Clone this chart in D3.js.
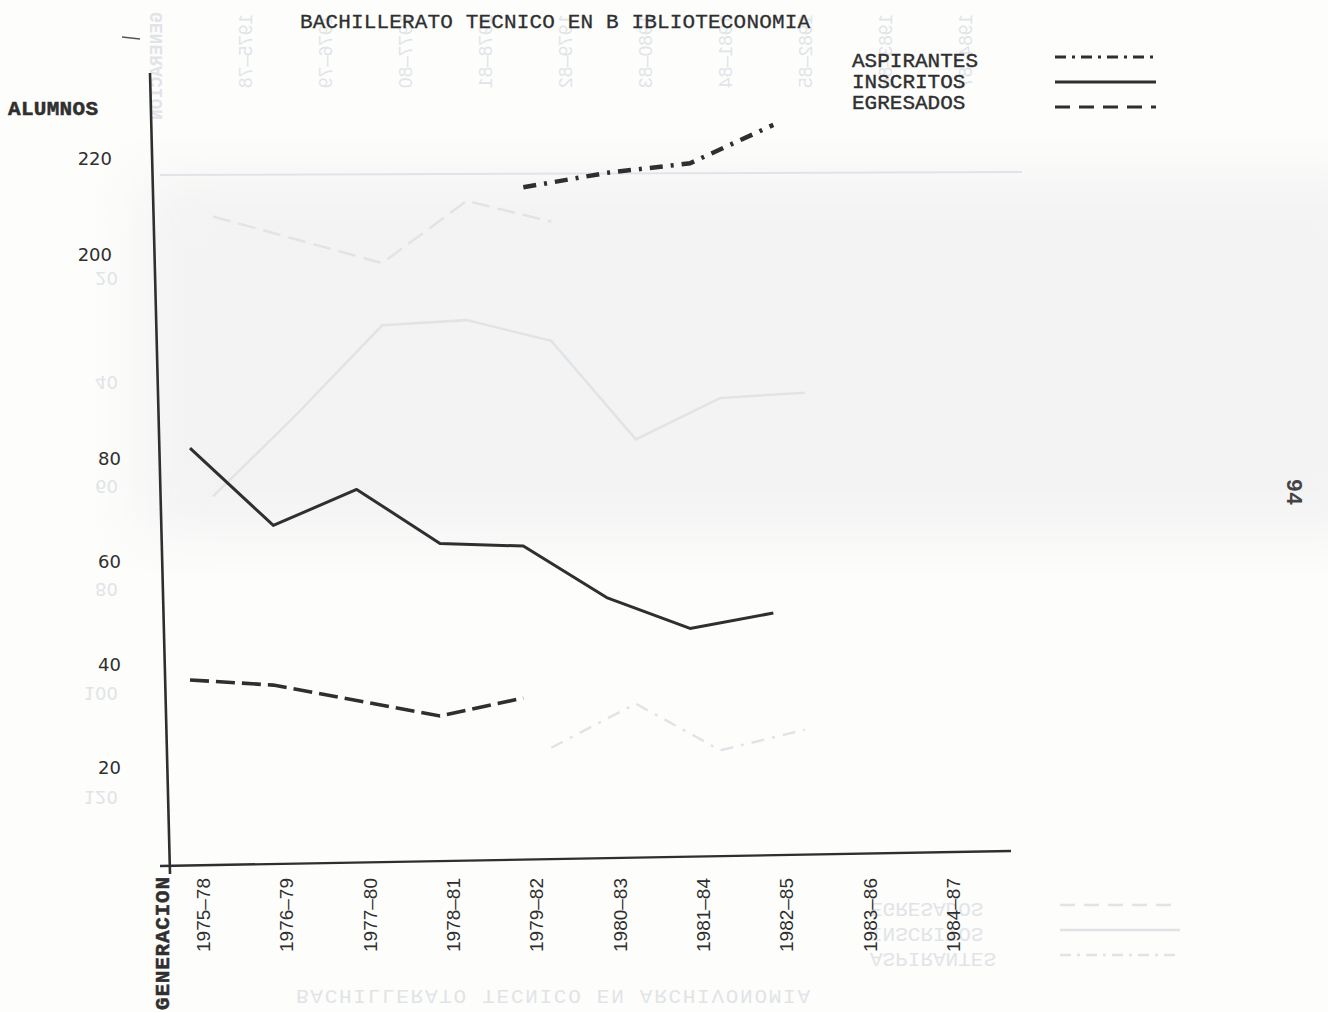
<!DOCTYPE html>
<html>
<head>
<meta charset="utf-8">
<script src="https://cdn.jsdelivr.net/npm/d3@7"></script>
<style>
  body { margin: 0; background: #fdfdfc; }
  svg { display: block; }
</style>
</head>
<body>
<div id="chart"></div>
<script>
// generaciones del eje x
var generaciones = ["1975–78", "1976–79", "1977–80", "1978–81", "1979–82",
                    "1980–83", "1981–84", "1982–85", "1983–86", "1984–87"];

// alumnos por generacion (null = sin dato)
var aspirantes = [null, null, null, null, 214, 217, 219, 227, null, null];
var inscritos  = [82, 67, 74, 63.5, 63, 53, 47, 50, null, null];
var egresados  = [37, 36, 33, 30, 33.5, null, null, null, null, null];

// etiquetas del eje y (eje partido)
var ticksBajos = [20, 40, 60, 80];
var ticksAltos = [200, 220];

// lo que se transparenta de la otra cara de la hoja (invertido)
var reversoTicks = [20, 40, 60, 80, 100, 120];
var reversoA = [8, 12.5, 17, 5, 9, null, null, null];
var reversoB = [62, 46, 29, 28, 32, 51, 43, 42];
var reversoC = [null, null, null, null, 110.5, 102, 111, 107];

var width = 1328, height = 1012;
var tinta = "#2f2f2f", fantasma = "#e1e4e7";
var maquina = "'Liberation Mono', 'DejaVu Sans Mono', monospace";

var svg = d3.select("#chart")
  .append("svg")
    .attr("width", width)
    .attr("height", height);

// leve sombra gris del papel escaneado
var defs = svg.append("defs");
defs.append("filter").attr("id", "blur")
  .append("feGaussianBlur").attr("stdDeviation", 30);
svg.append("rect")
  .attr("x", 140).attr("y", 175).attr("width", 1250).attr("height", 360)
  .attr("fill", "#f3f3f3")
  .attr("filter", "url(#blur)");

// escalas
var x = d3.scalePoint().domain(generaciones).range([190, 940]);
var yBajo = d3.scaleLinear().domain([0, 80]).range([870.5, 458.5]);
var yAlto = d3.scaleLinear().domain([200, 220]).range([254.5, 158.5]);

// ---------- capa fantasma (reverso) ----------
var rx = d3.scalePoint().domain(generaciones.slice(0, 8)).range([213, 805]);
var ry = d3.scaleLinear().domain([0, 120]).range([175, 797]);
var rLabels = d3.scalePoint().domain(generaciones).range([245, 965]);

var g0 = svg.append("g").attr("fill", fantasma).attr("stroke", "none");

// eje x del reverso
g0.append("line")
  .attr("x1", 160).attr("x2", 1022)
  .attr("y1", ry(0)).attr("y2", ry(0) - 3)
  .attr("stroke", fantasma).attr("stroke-width", 2);

var rLine = d3.line()
  .defined(function(d) { return d != null; })
  .x(function(d, i) { return rx(generaciones[i]); })
  .y(function(d) { return ry(d); });

g0.append("path").attr("d", rLine(reversoA))
  .attr("fill", "none").attr("stroke", fantasma).attr("stroke-width", 2.5)
  .attr("stroke-dasharray", "18 8");
g0.append("path").attr("d", rLine(reversoB))
  .attr("fill", "none").attr("stroke", fantasma).attr("stroke-width", 2.5);
g0.append("path").attr("d", rLine(reversoC))
  .attr("fill", "none").attr("stroke", fantasma).attr("stroke-width", 2.5)
  .attr("stroke-dasharray", "13 8 3 8");

// numeros del reverso
g0.selectAll(".rtick")
  .data(reversoTicks)
  .enter()
  .append("text")
    .attr("transform", function(d) { return "translate(118," + ry(d) + ") scale(1,-1)"; })
    .attr("text-anchor", "end")
    .attr("dy", "0.35em")
    .style("font-family", "'DejaVu Sans', sans-serif")
    .style("font-size", "18px")
    .text(function(d) { return d; });

// años del reverso arriba
g0.selectAll(".rgen")
  .data(generaciones)
  .enter()
  .append("text")
    .attr("transform", function(d) { return "translate(" + rLabels(d) + ",14) scale(1,-1) rotate(-90)"; })
    .attr("text-anchor", "start")
    .attr("dy", "0.35em")
    .style("font-family", "'Liberation Sans', Arial, sans-serif")
    .style("font-size", "19px")
    .text(function(d) { return d; });

g0.append("text")
  .attr("transform", "translate(156,12) scale(1,-1) rotate(-90)")
  .attr("dy", "0.35em")
  .style("font-family", maquina).style("font-size", "18px").style("font-weight", "bold")
  .text("GENERACION");

// titulo y leyenda del reverso
g0.append("text")
  .attr("transform", "translate(296,990) scale(1,-1)")
  .attr("textLength", 514).attr("lengthAdjust", "spacing")
  .style("font-family", maquina).style("font-size", "21px")
  .text("BACHILLERATO TECNICO EN ARCHIVONOMIA");

var rLeyenda = ["EGRESADOS", "INSCRITOS", "ASPIRANTES"];
g0.selectAll(".rley")
  .data(rLeyenda)
  .enter()
  .append("text")
    .attr("transform", function(d, i) { return "translate(870," + (903 + i * 25) + ") scale(1,-1)"; })
    .style("font-family", maquina).style("font-size", "21px")
    .text(function(d) { return d; });

var rMuestras = ["15 9", null, "11 6 3 6"];
rMuestras.forEach(function(dash, i) {
  g0.append("line")
    .attr("x1", 1060).attr("x2", 1180)
    .attr("y1", 905 + i * 25).attr("y2", 905 + i * 25)
    .attr("stroke", fantasma).attr("stroke-width", 2.5)
    .attr("stroke-dasharray", dash);
});

// ---------- grafica principal ----------
var g = svg.append("g");

// marca suelta arriba a la izquierda
g.append("line")
  .attr("x1", 122).attr("y1", 37).attr("x2", 140).attr("y2", 39)
  .attr("stroke", "#555").attr("stroke-width", 1.5);

// ejes dibujados a mano (ligeramente inclinados)
g.append("line")
  .attr("x1", 150).attr("y1", 73).attr("x2", 170).attr("y2", 874)
  .attr("stroke", tinta).attr("stroke-width", 2.6);
g.append("line")
  .attr("x1", 160).attr("y1", 866).attr("x2", 1011).attr("y2", 851)
  .attr("stroke", tinta).attr("stroke-width", 2.4);

// etiquetas y
g.selectAll(".tb")
  .data(ticksBajos)
  .enter()
  .append("text")
    .attr("x", 121)
    .attr("y", function(d) { return yBajo(d); })
    .attr("dy", "0.36em")
    .attr("text-anchor", "end")
    .attr("fill", tinta)
    .style("font-family", "'DejaVu Sans', sans-serif")
    .style("font-size", "18px")
    .text(function(d) { return d; });

g.selectAll(".ta")
  .data(ticksAltos)
  .enter()
  .append("text")
    .attr("x", 112)
    .attr("y", function(d) { return yAlto(d); })
    .attr("dy", "0.36em")
    .attr("text-anchor", "end")
    .attr("fill", tinta)
    .style("font-family", "'DejaVu Sans', sans-serif")
    .style("font-size", "18px")
    .text(function(d) { return d; });

// etiquetas x
g.selectAll(".gen")
  .data(generaciones)
  .enter()
  .append("text")
    .attr("transform", function(d) { return "translate(" + (x(d) + 13) + ",878) rotate(-90)"; })
    .attr("text-anchor", "end")
    .attr("dy", "0.36em")
    .attr("fill", tinta)
    .style("font-family", "'Liberation Sans', Arial, sans-serif")
    .style("font-size", "19px")
    .text(function(d) { return d; });

// textos a maquina
g.append("text")
  .attr("x", 300).attr("y", 28)
  .attr("textLength", 510).attr("lengthAdjust", "spacing")
  .attr("fill", tinta).attr("stroke", tinta).attr("stroke-width", 0.3)
  .style("font-family", maquina).style("font-size", "21px")
  .text("BACHILLERATO TECNICO EN B IBLIOTECONOMIA");

g.append("text")
  .attr("x", 8).attr("y", 115)
  .attr("textLength", 90).attr("lengthAdjust", "spacing")
  .attr("fill", tinta).attr("stroke", tinta).attr("stroke-width", 0.5)
  .style("font-family", maquina).style("font-size", "21px").style("font-weight", "bold")
  .text("ALUMNOS");

g.append("text")
  .attr("transform", "translate(161,877) rotate(-90)")
  .attr("text-anchor", "end")
  .attr("dy", "0.36em")
  .attr("textLength", 133).attr("lengthAdjust", "spacing")
  .attr("fill", tinta).attr("stroke", tinta).attr("stroke-width", 0.5)
  .style("font-family", maquina).style("font-size", "21px").style("font-weight", "bold")
  .text("GENERACION");

g.append("text")
  .attr("transform", "translate(1287,492) rotate(90)")
  .attr("text-anchor", "middle")
  .attr("fill", "#444")
  .style("font-family", maquina).style("font-size", "22px").style("font-weight", "bold")
  .text("94");

// lineas de datos
var lineaBaja = d3.line()
  .defined(function(d) { return d != null; })
  .x(function(d, i) { return x(generaciones[i]); })
  .y(function(d) { return yBajo(d); });

var lineaAlta = d3.line()
  .defined(function(d) { return d != null; })
  .x(function(d, i) { return x(generaciones[i]); })
  .y(function(d) { return yAlto(d); });

g.append("path")
  .attr("d", lineaAlta(aspirantes))
  .attr("fill", "none").attr("stroke", tinta)
  .attr("stroke-width", 4.5)
  .attr("stroke-dasharray", "13 8 3 8");

g.append("path")
  .attr("d", lineaBaja(inscritos))
  .attr("fill", "none").attr("stroke", tinta)
  .attr("stroke-width", 3)
  .attr("stroke-linejoin", "round");

g.append("path")
  .attr("d", lineaBaja(egresados))
  .attr("fill", "none").attr("stroke", tinta)
  .attr("stroke-width", 3.6)
  .attr("stroke-dasharray", "19 7");

// leyenda
var leyenda = ["ASPIRANTES", "INSCRITOS", "EGRESADOS"];
var muestras = ["11 6 3 6", null, "15 9"];

g.selectAll(".ley")
  .data(leyenda)
  .enter()
  .append("text")
    .attr("x", 852)
    .attr("y", function(d, i) { return 67 + i * 21; })
    .attr("fill", tinta).attr("stroke", tinta).attr("stroke-width", 0.4)
    .style("font-family", maquina).style("font-size", "21px")
    .text(function(d) { return d; });

muestras.forEach(function(dash, i) {
  g.append("line")
    .attr("x1", 1055).attr("x2", 1156)
    .attr("y1", 57 + i * 25).attr("y2", 57 + i * 25)
    .attr("stroke", tinta).attr("stroke-width", 3)
    .attr("stroke-dasharray", dash);
});
</script>
</body>
</html>
